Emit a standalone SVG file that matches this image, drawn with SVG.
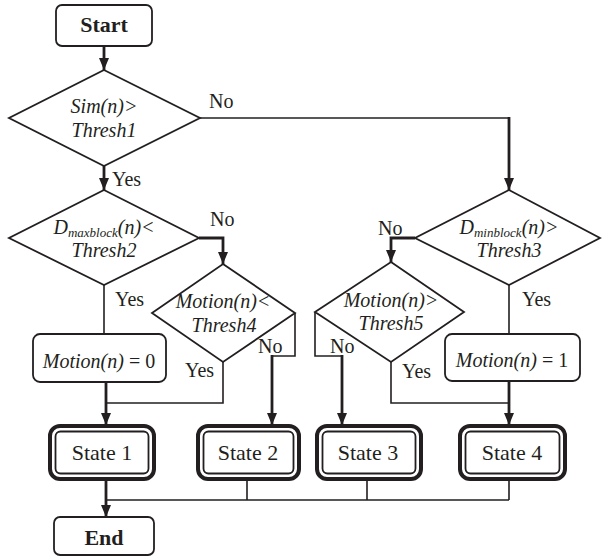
<svg xmlns="http://www.w3.org/2000/svg" width="602" height="557" viewBox="0 0 602 557" font-family="'Liberation Serif', 'DejaVu Serif', serif">
<style>
.bg{fill:#ffffff}
.shape{fill:#ffffff;stroke:#231f20;stroke-width:1.8}
.outer{fill:#ffffff;stroke:#231f20;stroke-width:4}
.inner{fill:none;stroke:#231f20;stroke-width:1.8}
.thin{fill:none;stroke:#231f20;stroke-width:1.6}
.thick{fill:none;stroke:#231f20;stroke-width:2.8}
text{font-family:'Liberation Serif','DejaVu Serif',serif}
.t{font-size:20px;fill:#231f20}
.i{font-style:italic}
.b{font-weight:bold;font-size:22px}
.s{font-size:22px}
.m{text-anchor:middle}
.sub{font-size:13px}
</style>
<defs>
<marker id="arr" viewBox="0 0 12 10" refX="12" refY="5" markerWidth="12" markerHeight="10" markerUnits="userSpaceOnUse" orient="auto">
<path d="M0,0 L12,5 L0,10 z" fill="#231f20"/>
</marker>
</defs>
<rect class="bg" x="0" y="0" width="602" height="557"/>

<g id="connectors">
<path class="thick" d="M104,46 V70" marker-end="url(#arr)"/>
<path class="thin" d="M200,118 H509"/>
<path class="thick" d="M509,117 V190" marker-end="url(#arr)"/>
<path class="thick" d="M104,166 V190" marker-end="url(#arr)"/>
<path class="thick" d="M199,238 H223 V264" marker-end="url(#arr)"/>
<path class="thin" d="M104,285 V334"/>
<path class="thick" d="M106,382 V425" marker-end="url(#arr)"/>
<path class="thin" d="M223,362 V403 H106"/>
<path class="thin" d="M295,313 V356 H272"/>
<path class="thick" d="M272,355 V425" marker-end="url(#arr)"/>
<path class="thick" d="M415,238 H391 V262" marker-end="url(#arr)"/>
<path class="thin" d="M509,285 V334"/>
<path class="thick" d="M509,381 V425" marker-end="url(#arr)"/>
<path class="thin" d="M391,362 V403 H509"/>
<path class="thin" d="M315,312 V356 H342"/>
<path class="thick" d="M342,355 V425" marker-end="url(#arr)"/>
<path class="thick" d="M106,480 V517" marker-end="url(#arr)"/>
<path class="thin" d="M106,500 H509 M247,480 V500 M367,480 V500 M509,480 V500"/>
<text class="t" x="209" y="108">No</text>
<text class="t" x="112" y="186">Yes</text>
<text class="t" x="210" y="226">No</text>
<text class="t" x="115" y="306">Yes</text>
<text class="t" x="185" y="377">Yes</text>
<text class="t" x="258" y="353">No</text>
<text class="t" x="378" y="235">No</text>
<text class="t" x="522" y="306">Yes</text>
<text class="t" x="402" y="378">Yes</text>
<text class="t" x="330" y="353">No</text>
</g>

<g id="start">
<rect class="shape" x="56" y="5" width="96" height="41" rx="6"/>
<text class="t b m" x="104" y="32">Start</text>
</g>

<g id="d1">
<polygon class="shape" points="104,70 200,118 104,166 9,118"/>
<text class="t i m" x="104" y="113">Sim(n)&gt;</text>
<text class="t i m" x="104" y="137">Thresh1</text>
</g>

<g id="d2">
<polygon class="shape" points="104,190 199,238 104,285 9,238"/>
<text class="t i m" x="104" y="234"><tspan>D</tspan><tspan class="sub" dy="3">maxblock</tspan><tspan dy="-3">(n)&lt;</tspan></text>
<text class="t i m" x="104" y="257">Thresh2</text>
</g>

<g id="d3">
<polygon class="shape" points="509,190 600,238 509,285 415,238"/>
<text class="t i m" x="509" y="234"><tspan>D</tspan><tspan class="sub" dy="3">minblock</tspan><tspan dy="-3">(n)&gt;</tspan></text>
<text class="t i m" x="509" y="257">Thresh3</text>
</g>

<g id="d4">
<polygon class="shape" points="223,264 295,313 223,362 152,313"/>
<text class="t i m" x="223" y="308">Motion(n)&lt;</text>
<text class="t i m" x="224" y="332">Thresh4</text>
</g>

<g id="d5">
<polygon class="shape" points="391,262 464,312 391,362 315,312"/>
<text class="t i m" x="391" y="307">Motion(n)&gt;</text>
<text class="t i m" x="391" y="330">Thresh5</text>
</g>

<g id="m0">
<rect class="shape" x="33" y="334" width="133" height="48" rx="7"/>
<text class="t m" x="99" y="368"><tspan class="i">Motion(n)</tspan> = 0</text>
</g>

<g id="m1">
<rect class="shape" x="445" y="334" width="135" height="47" rx="7"/>
<text class="t m" x="512" y="367"><tspan class="i">Motion(n)</tspan> = 1</text>
</g>

<g id="s1">
<rect class="outer" x="50" y="426" width="104" height="53" rx="10"/>
<rect class="inner" x="55.5" y="431.5" width="93" height="42" rx="5"/>
<text class="t s m" x="102" y="460">State 1</text>
</g>
<g id="s2">
<rect class="outer" x="198" y="426" width="101" height="53" rx="10"/>
<rect class="inner" x="203.5" y="431.5" width="90" height="42" rx="5"/>
<text class="t s m" x="248" y="460">State 2</text>
</g>
<g id="s3">
<rect class="outer" x="317" y="426" width="104" height="53" rx="10"/>
<rect class="inner" x="322.5" y="431.5" width="93" height="42" rx="5"/>
<text class="t s m" x="368" y="460">State 3</text>
</g>
<g id="s4">
<rect class="outer" x="460" y="426" width="105" height="53" rx="10"/>
<rect class="inner" x="465.5" y="431.5" width="94" height="42" rx="5"/>
<text class="t s m" x="512" y="460">State 4</text>
</g>

<g id="end">
<rect class="shape" x="54" y="517" width="100" height="38" rx="6"/>
<text class="t b m" x="104" y="545">End</text>
</g>
</svg>
